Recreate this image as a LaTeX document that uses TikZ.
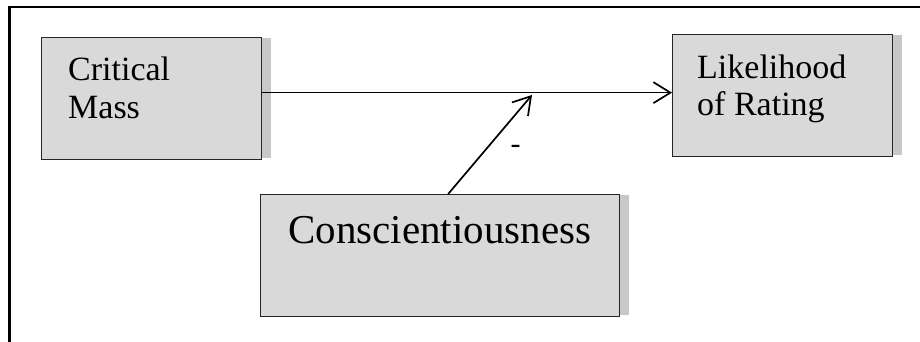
\documentclass[tikz,border=0pt]{standalone}
\usepackage{fontspec}
\setmainfont{Liberation Serif}
\usepackage{tikz}
\usetikzlibrary{positioning, arrows.meta, calc}

\definecolor{boxgray}{HTML}{D9D9D9}
\definecolor{shadowgray}{HTML}{C8C8C8}
\definecolor{edgegray}{HTML}{262626}

\begin{document}
\begin{tikzpicture}[x=1pt, y=-1pt,
			box/.style={rectangle, draw=edgegray, fill=boxgray, line width=1.3pt, inner sep=0pt, anchor=north west},
			shade/.style={fill=shadowgray},
			term/.style={inner sep=0pt, anchor=north west, align=left, text=black},
			link/.style={-{Straight Barb[length=17pt, width=21pt]}, line width=1.7pt, draw=black}
			]
			\useasboundingbox (0,0) rectangle (920,342);
			
			% Frame, only its top and left edges show
			\draw[line width=2.2pt] (920,7) -- (9.5,7) -- (9.5,342);
			
			% Boxes
			\node[box, minimum width=220pt, minimum height=122pt] (cm) at (41,37) {};
			\node[box, minimum width=220pt, minimum height=122pt] (lr) at (672,34) {};
			\node[box, minimum width=359pt, minimum height=122pt] (cs) at (260,194) {};
			
			% Shadows on the right side
			\fill[shade] ([yshift=-1pt]cm.north east) rectangle ([xshift=9pt, yshift=2pt]cm.south east);
			\fill[shade] ([yshift=-1pt]lr.north east) rectangle ([xshift=9pt, yshift=2pt]lr.south east);
			\fill[shade] ([yshift=-1pt]cs.north east) rectangle ([xshift=9pt, yshift=2pt]cs.south east);
			
			% Texts
			\node[term, font=\fontsize{34}{38}\selectfont] (cmtext) at (68,57) {Critical\\Mass};
			\node[term, font=\fontsize{34}{37}\selectfont] (lrtext) at (697,55) {Likelihood\\of Rating};
			\node[term, font=\fontsize{41}{46}\selectfont, anchor=base west] (cstext) at (288,243) {Conscientiousness};
			
			% Main effect and moderation
			\coordinate (mod) at (532,95);
			\draw[link] ([yshift=6pt]cm.east) -- ([yshift=6pt]cm.east -| lr.west);
			\draw[link] ([xshift=8pt]cs.north) -- (mod)
				node[pos=0.45, right=24pt, inner sep=0pt, font=\fontsize{30}{34}\selectfont] (sign) {-};
		\end{tikzpicture}
\end{document}
